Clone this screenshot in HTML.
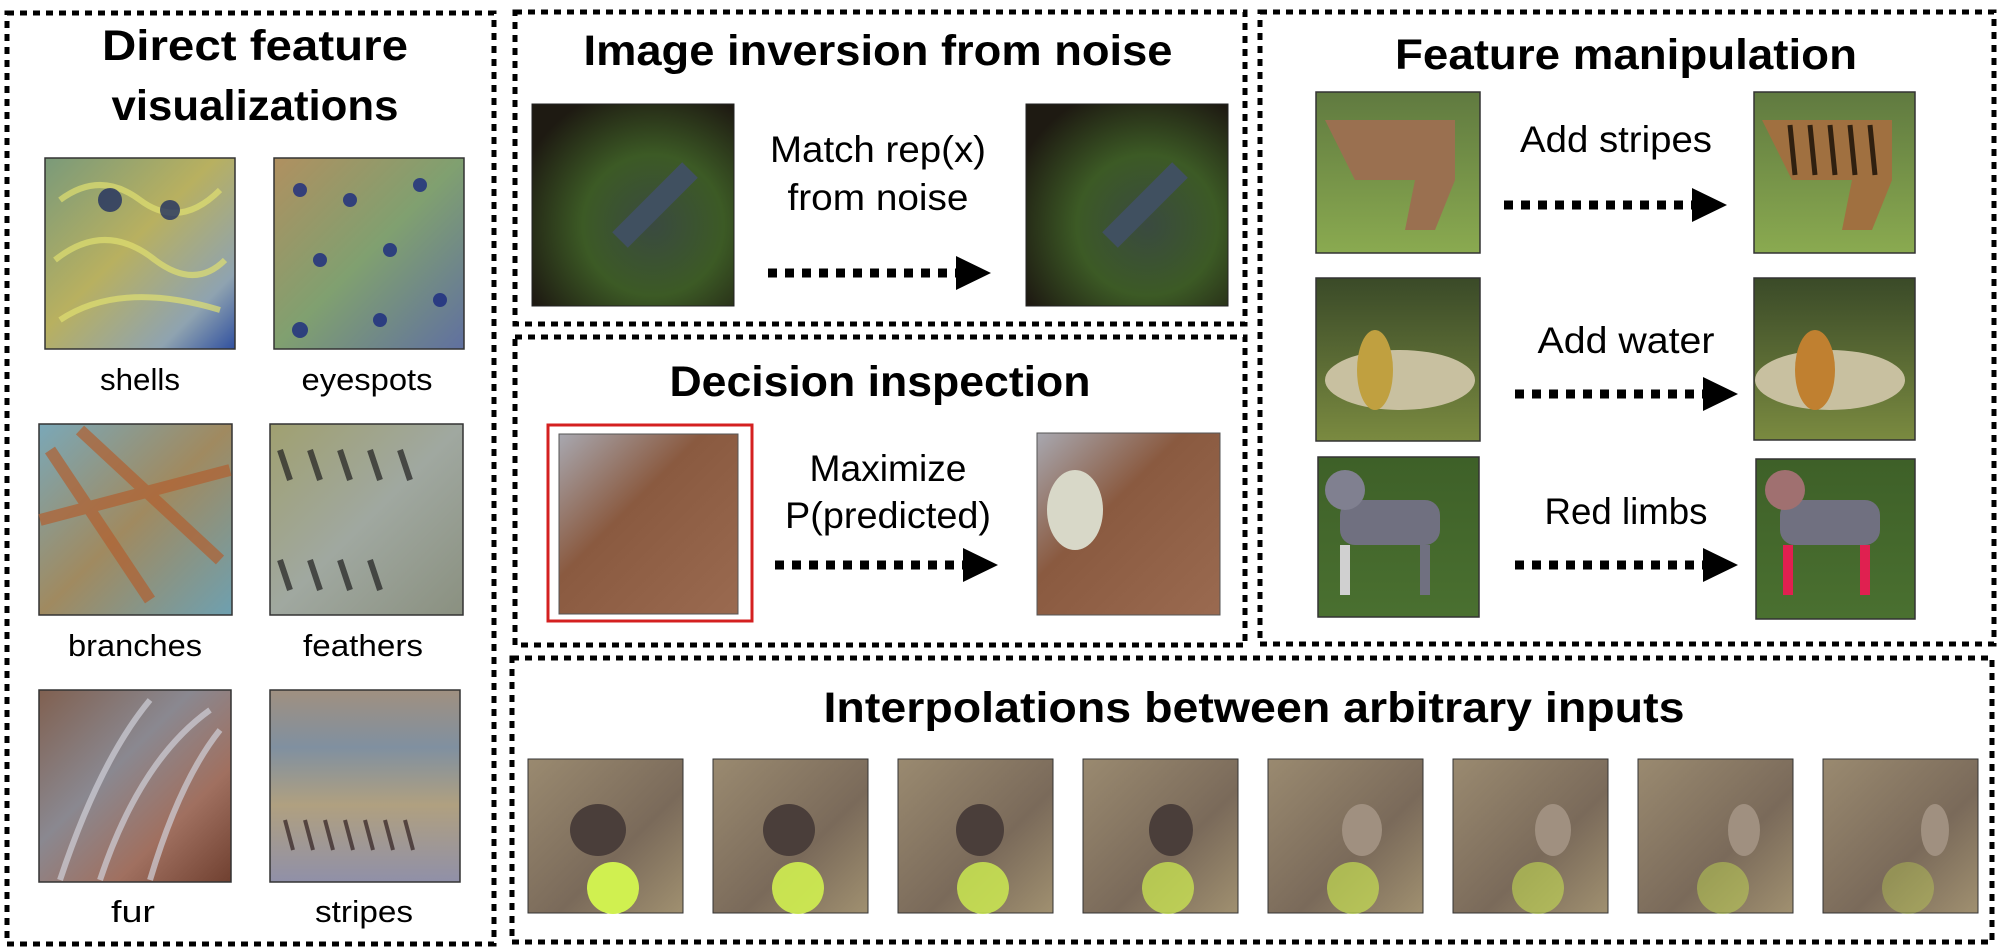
<!DOCTYPE html>
<html><head><meta charset="utf-8"><style>
html,body{margin:0;padding:0;background:#fff;}
svg{display:block}
text{font-family:"Liberation Sans",sans-serif;fill:#000}
.t{font-size:43px;font-weight:bold}
.s{font-size:37px}
.l{font-size:31px}
</style></head><body>
<svg width="2000" height="949" viewBox="0 0 2000 949">
<defs>
<linearGradient id="gShell" x1="0" y1="0" x2="1" y2="1"><stop offset="0" stop-color="#7a9a7a"/><stop offset=".45" stop-color="#b8b060"/><stop offset=".8" stop-color="#8fa3b0"/><stop offset="1" stop-color="#3050a0"/></linearGradient>
<linearGradient id="gEye" x1="0" y1="0" x2="1" y2="1"><stop offset="0" stop-color="#b09060"/><stop offset=".5" stop-color="#80a070"/><stop offset="1" stop-color="#6070a0"/></linearGradient>
<linearGradient id="gBranch" x1="0" y1="0" x2="1" y2="1"><stop offset="0" stop-color="#7aa8b8"/><stop offset=".5" stop-color="#a08a60"/><stop offset="1" stop-color="#6ea0b0"/></linearGradient>
<linearGradient id="gFeath" x1="0" y1="0" x2="1" y2="1"><stop offset="0" stop-color="#a0a070"/><stop offset=".5" stop-color="#a0a8a0"/><stop offset="1" stop-color="#8a9080"/></linearGradient>
<linearGradient id="gFur" x1="0" y1="0" x2="1" y2="1"><stop offset="0" stop-color="#806050"/><stop offset=".4" stop-color="#8a8890"/><stop offset=".7" stop-color="#a07060"/><stop offset="1" stop-color="#704030"/></linearGradient>
<linearGradient id="gStripe" x1="0" y1="0" x2="0" y2="1"><stop offset="0" stop-color="#a09080"/><stop offset=".3" stop-color="#8090a0"/><stop offset=".6" stop-color="#b0a080"/><stop offset="1" stop-color="#9090a8"/></linearGradient>
<radialGradient id="gBug" cx=".6" cy=".6" r=".7"><stop offset="0" stop-color="#3a4a40"/><stop offset=".5" stop-color="#3c5a25"/><stop offset="1" stop-color="#1e1a12"/></radialGradient>
<linearGradient id="gLady" x1="0" y1="0" x2="1" y2="1"><stop offset="0" stop-color="#a8a8b0"/><stop offset=".4" stop-color="#8a5a40"/><stop offset="1" stop-color="#9a6a50"/></linearGradient>
<linearGradient id="gGrass" x1="0" y1="0" x2="0" y2="1"><stop offset="0" stop-color="#607a40"/><stop offset="1" stop-color="#8aaa50"/></linearGradient>
<linearGradient id="gDark" x1="0" y1="0" x2="0" y2="1"><stop offset="0" stop-color="#3a4a28"/><stop offset="1" stop-color="#7a8a40"/></linearGradient>
<linearGradient id="gGreen" x1="0" y1="0" x2="0" y2="1"><stop offset="0" stop-color="#3e6028"/><stop offset="1" stop-color="#4a7030"/></linearGradient>
<linearGradient id="gDog" x1="0" y1="0" x2="1" y2="1"><stop offset="0" stop-color="#9a8a70"/><stop offset=".6" stop-color="#7a6a5a"/><stop offset="1" stop-color="#a09070"/></linearGradient>
</defs>

<g fill="none" stroke="#000" stroke-width="5" stroke-dasharray="7 6">
<rect x="7" y="13" width="487" height="931"/>
<rect x="515" y="12" width="730" height="312"/>
<rect x="515" y="337" width="730" height="308"/>
<rect x="1260" y="12" width="734" height="632"/>
<rect x="512" y="658" width="1480" height="284"/>
</g>

<text class="t" x="255" y="60" text-anchor="middle" textLength="306" lengthAdjust="spacingAndGlyphs">Direct feature</text>
<text class="t" x="255" y="120" text-anchor="middle" textLength="287" lengthAdjust="spacingAndGlyphs">visualizations</text>
<text class="t" x="878" y="65" text-anchor="middle" textLength="589" lengthAdjust="spacingAndGlyphs">Image inversion from noise</text>
<text class="t" x="880" y="396" text-anchor="middle" textLength="421" lengthAdjust="spacingAndGlyphs">Decision inspection</text>
<text class="t" x="1626" y="69" text-anchor="middle" textLength="462" lengthAdjust="spacingAndGlyphs">Feature manipulation</text>
<text class="t" x="1254" y="722" text-anchor="middle" textLength="861" lengthAdjust="spacingAndGlyphs">Interpolations between arbitrary inputs</text>

<g stroke="#333" stroke-width="1.5">
<rect x="45" y="158" width="190" height="191" fill="url(#gShell)"/>
<rect x="274" y="158" width="190" height="191" fill="url(#gEye)"/>
<rect x="39" y="424" width="193" height="191" fill="url(#gBranch)"/>
<rect x="270" y="424" width="193" height="191" fill="url(#gFeath)"/>
<rect x="39" y="690" width="192" height="192" fill="url(#gFur)"/>
<rect x="270" y="690" width="190" height="192" fill="url(#gStripe)"/>
</g>
<g fill="none" stroke-width="6" opacity=".7">
<path d="M60 200 q40 -30 80 0 q40 30 80 -10 M55 260 q50 -40 100 0 q40 30 70 0 M60 320 q60 -40 160 -10" stroke="#e0e070"/>
<path d="M50 450 L150 600 M80 430 L220 560 M40 520 L230 470" stroke="#b06030" stroke-width="12"/>
<path d="M280 450 l10 30 m20 -30 l10 30 m20 -30 l10 30 m20 -30 l10 30 m20 -30 l10 30 M280 560 l10 30 m20 -30 l10 30 m20 -30 l10 30 m20 -30 l10 30" stroke="#202020"/>
<path d="M60 880 q40 -120 90 -180 M100 880 q40 -120 110 -170 M150 880 q30 -100 70 -150" stroke="#d0d0d8"/>
<path d="M285 820 l8 30 m12 -30 l8 30 m12 -30 l8 30 m12 -30 l8 30 m12 -30 l8 30 m12 -30 l8 30 m12 -30 l8 30" stroke="#302020" stroke-width="4"/>
</g>
<g fill="#1a2a80" opacity=".8">
<circle cx="300" cy="190" r="7"/><circle cx="350" cy="200" r="7"/><circle cx="420" cy="185" r="7"/><circle cx="320" cy="260" r="7"/><circle cx="390" cy="250" r="7"/><circle cx="440" cy="300" r="7"/><circle cx="300" cy="330" r="8"/><circle cx="380" cy="320" r="7"/>
<circle cx="110" cy="200" r="12" fill="#203060"/><circle cx="170" cy="210" r="10" fill="#203060"/>
</g>
<text class="l" x="140" y="390" text-anchor="middle" textLength="80" lengthAdjust="spacingAndGlyphs">shells</text>
<text class="l" x="367" y="390" text-anchor="middle" textLength="131" lengthAdjust="spacingAndGlyphs">eyespots</text>
<text class="l" x="135" y="656" text-anchor="middle" textLength="134" lengthAdjust="spacingAndGlyphs">branches</text>
<text class="l" x="363" y="656" text-anchor="middle" textLength="120" lengthAdjust="spacingAndGlyphs">feathers</text>
<text class="l" x="133" y="922" text-anchor="middle" textLength="44" lengthAdjust="spacingAndGlyphs">fur</text>
<text class="l" x="364" y="922" text-anchor="middle" textLength="98" lengthAdjust="spacingAndGlyphs">stripes</text>

<rect x="532" y="104" width="202" height="202" fill="url(#gBug)" stroke="#222"/>
<rect x="1026" y="104" width="202" height="202" fill="url(#gBug)" stroke="#222"/>
<path d="M620 240 l70 -70 M1110 240 l70 -70" stroke="#405060" stroke-width="22"/>
<text class="s" x="878" y="162" text-anchor="middle" textLength="216" lengthAdjust="spacingAndGlyphs">Match rep(x)</text>
<text class="s" x="878" y="210" text-anchor="middle" textLength="181" lengthAdjust="spacingAndGlyphs">from noise</text>

<rect x="548" y="425" width="204" height="196" fill="none" stroke="#d42020" stroke-width="3"/>
<rect x="559" y="434" width="179" height="180" fill="url(#gLady)" stroke="#555"/>
<rect x="1037" y="433" width="183" height="182" fill="url(#gLady)" stroke="#555"/>
<ellipse cx="1075" cy="510" rx="28" ry="40" fill="#d8d8c8"/>
<text class="s" x="888" y="481" text-anchor="middle" textLength="157" lengthAdjust="spacingAndGlyphs">Maximize</text>
<text class="s" x="888" y="528" text-anchor="middle" textLength="206" lengthAdjust="spacingAndGlyphs">P(predicted)</text>

<g stroke="#333" stroke-width="1.5">
<rect x="1316" y="92" width="164" height="161" fill="url(#gGrass)"/>
<rect x="1754" y="92" width="161" height="161" fill="url(#gGrass)"/>
<rect x="1316" y="278" width="164" height="163" fill="url(#gDark)"/>
<rect x="1754" y="278" width="161" height="162" fill="url(#gDark)"/>
<rect x="1318" y="457" width="161" height="160" fill="url(#gGreen)"/>
<rect x="1756" y="459" width="159" height="160" fill="url(#gGreen)"/>
</g>
<g>
<path d="M1325 120 h130 v60 l-20 50 h-30 l10 -50 h-60 z" fill="#9a7050"/>
<path d="M1762 120 h130 v60 l-20 50 h-30 l10 -50 h-60 z" fill="#a07040"/>
<path d="M1790 125 l5 50 M1810 125 l5 50 M1830 125 l5 50 M1850 125 l5 50 M1870 125 l5 50" stroke="#302010" stroke-width="5"/>
<ellipse cx="1400" cy="380" rx="75" ry="30" fill="#c8c0a0"/><ellipse cx="1375" cy="370" rx="18" ry="40" fill="#c0a040"/>
<ellipse cx="1830" cy="380" rx="75" ry="30" fill="#c8c0a0"/><ellipse cx="1815" cy="370" rx="20" ry="40" fill="#c08030"/>
<rect x="1340" y="500" width="100" height="45" rx="15" fill="#707080"/><rect x="1340" y="545" width="10" height="50" fill="#d0d0d0"/><rect x="1420" y="545" width="10" height="50" fill="#707080"/><circle cx="1345" cy="490" r="20" fill="#808090"/>
<rect x="1780" y="500" width="100" height="45" rx="15" fill="#707080"/><rect x="1783" y="545" width="10" height="50" fill="#e02050"/><rect x="1860" y="545" width="10" height="50" fill="#e02050"/><circle cx="1785" cy="490" r="20" fill="#a07070"/>
</g>
<text class="s" x="1616" y="152" text-anchor="middle" textLength="192" lengthAdjust="spacingAndGlyphs">Add stripes</text>
<text class="s" x="1626" y="353" text-anchor="middle" textLength="177" lengthAdjust="spacingAndGlyphs">Add water</text>
<text class="s" x="1626" y="524" text-anchor="middle" textLength="163" lengthAdjust="spacingAndGlyphs">Red limbs</text>

<g stroke="#000" stroke-width="9" stroke-dasharray="9 8">
<line x1="768" y1="273" x2="968" y2="273"/>
<line x1="775" y1="565" x2="975" y2="565"/>
<line x1="1504" y1="205" x2="1704" y2="205"/>
<line x1="1515" y1="394" x2="1715" y2="394"/>
<line x1="1515" y1="565" x2="1715" y2="565"/>
</g>
<g fill="#000">
<path d="M956 256 L991 273 L956 290 Z"/><path d="M963 548 L998 565 L963 582 Z"/>
<path d="M1692 188 L1727 205 L1692 222 Z"/><path d="M1703 377 L1738 394 L1703 411 Z"/><path d="M1703 548 L1738 565 L1703 582 Z"/>
</g>

<g id="interp"></g>
</svg>
<script>
const interpCount = [0,1,2,3,4,5,6,7];
const g = document.getElementById('interp');
const NS = 'http://www.w3.org/2000/svg';
interpCount.forEach(i => {
  const x = 528 + i * 185;
  const r = document.createElementNS(NS, 'rect');
  r.setAttribute('x', x); r.setAttribute('y', 759); r.setAttribute('width', 155); r.setAttribute('height', 154);
  r.setAttribute('fill', 'url(#gDog)'); r.setAttribute('stroke', '#333');
  
  
  g.appendChild(r);
  const n = document.createElementNS(NS, 'ellipse');
  n.setAttribute('cx', x + 70 + i * 6); n.setAttribute('cy', 830); n.setAttribute('rx', 28 - i * 2); n.setAttribute('ry', 26);
  n.setAttribute('fill', i < 4 ? '#4a3e3a' : '#a09080');
  g.appendChild(n);
  const b = document.createElementNS(NS, 'circle');
  b.setAttribute('cx', x + 85); b.setAttribute('cy', 888); b.setAttribute('r', 26);
  b.setAttribute('fill', '#d0f050'); b.setAttribute('opacity', String(1 - i * 0.1));
  g.appendChild(b);
});
</script>
</body></html>
